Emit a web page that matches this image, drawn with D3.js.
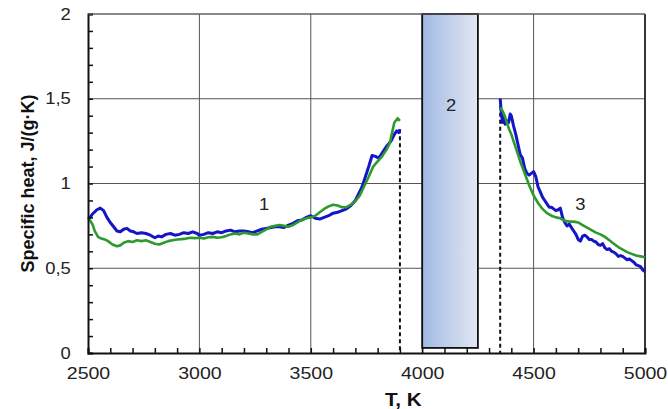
<!DOCTYPE html>
<html>
<head>
<meta charset="utf-8">
<script src="https://cdn.jsdelivr.net/npm/d3@7"></script>
<style>
  body { margin: 0; background: #fff; }
  svg { display: block; font-family: "Liberation Sans", Arial, sans-serif; }
</style>
</head>
<body>
<div id="chart"></div>
<script>
// Specific heat vs temperature, two measurement series (blue, green), split
// around the melting region (shaded bar "2").
const xTicks = [2500, 3000, 3500, 4000, 4500, 5000];
const yTicks = [0, 0.5, 1, 1.5, 2];

const blueSolid = [
  [2500, 0.80], [2510, 0.80], [2520, 0.82], [2540, 0.845], [2555, 0.855], [2570, 0.84],
  [2585, 0.80], [2600, 0.77], [2615, 0.745], [2630, 0.72], [2645, 0.715], [2660, 0.73],
  [2675, 0.735], [2690, 0.72], [2705, 0.715], [2720, 0.705], [2740, 0.71], [2760, 0.705],
  [2780, 0.695], [2800, 0.68], [2815, 0.69], [2830, 0.685], [2850, 0.70], [2870, 0.705],
  [2890, 0.695], [2910, 0.70], [2930, 0.71], [2950, 0.705], [2970, 0.715], [2990, 0.705],
  [3000, 0.695], [3020, 0.70], [3040, 0.71], [3060, 0.705], [3080, 0.715], [3100, 0.71],
  [3120, 0.72], [3140, 0.725], [3160, 0.715], [3180, 0.72], [3200, 0.72], [3220, 0.715],
  [3240, 0.71], [3260, 0.72], [3280, 0.73], [3300, 0.735], [3320, 0.74], [3340, 0.745],
  [3360, 0.745], [3380, 0.74], [3400, 0.755], [3420, 0.765], [3440, 0.78], [3460, 0.785],
  [3480, 0.80], [3500, 0.81], [3520, 0.795], [3540, 0.79], [3560, 0.80], [3580, 0.81],
  [3600, 0.825], [3620, 0.83], [3640, 0.84], [3660, 0.85], [3680, 0.87], [3700, 0.90],
  [3715, 0.94], [3730, 0.98], [3745, 1.04], [3760, 1.10], [3775, 1.165], [3790, 1.16],
  [3805, 1.15], [3820, 1.18], [3840, 1.22], [3860, 1.25], [3875, 1.29], [3885, 1.31],
  [3895, 1.30], [3900, 1.32]
];

const greenSolid = [
  [2500, 0.80], [2510, 0.78], [2520, 0.76], [2530, 0.72], [2545, 0.685], [2560, 0.675],
  [2575, 0.67], [2590, 0.66], [2610, 0.64], [2630, 0.63], [2645, 0.635], [2660, 0.65],
  [2680, 0.66], [2700, 0.655], [2720, 0.665], [2740, 0.66], [2760, 0.665], [2780, 0.655],
  [2800, 0.645], [2820, 0.64], [2840, 0.65], [2860, 0.66], [2880, 0.665], [2900, 0.67],
  [2920, 0.672], [2940, 0.675], [2960, 0.68], [2980, 0.678], [3000, 0.68], [3020, 0.675],
  [3040, 0.683], [3060, 0.685], [3080, 0.68], [3100, 0.683], [3120, 0.69], [3140, 0.70],
  [3160, 0.705], [3180, 0.70], [3200, 0.71], [3220, 0.705], [3240, 0.70], [3260, 0.70],
  [3280, 0.715], [3300, 0.73], [3320, 0.745], [3340, 0.75], [3360, 0.755], [3380, 0.75],
  [3400, 0.745], [3420, 0.755], [3440, 0.77], [3460, 0.785], [3480, 0.795], [3500, 0.80],
  [3520, 0.81], [3540, 0.83], [3560, 0.85], [3580, 0.865], [3600, 0.875], [3620, 0.87],
  [3640, 0.86], [3660, 0.86], [3680, 0.875], [3700, 0.895], [3720, 0.93], [3740, 0.985],
  [3760, 1.04], [3780, 1.10], [3800, 1.13], [3820, 1.16], [3840, 1.20], [3855, 1.24],
  [3865, 1.30], [3875, 1.36], [3890, 1.385], [3900, 1.37]
];

const blueLiquid = [
  [4350, 1.50], [4355, 1.42], [4360, 1.36], [4365, 1.39], [4372, 1.35], [4380, 1.37],
  [4388, 1.36], [4395, 1.41], [4400, 1.40], [4410, 1.34], [4420, 1.29], [4430, 1.23],
  [4440, 1.17], [4450, 1.15], [4460, 1.09], [4470, 1.06], [4480, 1.05], [4490, 1.06],
  [4500, 1.07], [4510, 1.04], [4520, 0.98], [4530, 0.95], [4540, 0.92], [4550, 0.90],
  [4560, 0.88], [4570, 0.86], [4580, 0.86], [4590, 0.85], [4600, 0.84], [4610, 0.845],
  [4620, 0.855], [4630, 0.80], [4640, 0.77], [4650, 0.75], [4660, 0.76], [4670, 0.74],
  [4680, 0.72], [4690, 0.70], [4700, 0.67], [4710, 0.66], [4720, 0.69], [4730, 0.695],
  [4740, 0.685], [4750, 0.67], [4760, 0.67], [4770, 0.66], [4780, 0.655], [4790, 0.64],
  [4800, 0.635], [4810, 0.645], [4820, 0.62], [4830, 0.61], [4840, 0.615], [4850, 0.60],
  [4860, 0.595], [4870, 0.585], [4880, 0.57], [4890, 0.575], [4900, 0.57], [4910, 0.56],
  [4920, 0.55], [4930, 0.555], [4940, 0.545], [4950, 0.535], [4960, 0.52], [4970, 0.515],
  [4980, 0.51], [4990, 0.49], [5000, 0.48]
];

const greenLiquid = [
  [4350, 1.45], [4360, 1.43], [4370, 1.40], [4380, 1.36], [4390, 1.32], [4400, 1.29],
  [4420, 1.21], [4440, 1.13], [4460, 1.06], [4480, 0.99], [4500, 0.93], [4520, 0.885],
  [4540, 0.85], [4560, 0.825], [4580, 0.81], [4600, 0.80], [4620, 0.795], [4640, 0.78],
  [4660, 0.775], [4680, 0.775], [4700, 0.77], [4720, 0.755], [4740, 0.74], [4760, 0.725],
  [4780, 0.71], [4800, 0.70], [4820, 0.685], [4840, 0.665], [4860, 0.645], [4880, 0.625],
  [4900, 0.61], [4920, 0.595], [4940, 0.585], [4960, 0.575], [4980, 0.57], [5000, 0.565]
];

// melting region and the two ends of the measured curves
const meltBand = { from: 4000, to: 4250, top: 2, bottom: 0.03 };
const dashedMarks = [[3900, 1.32], [4350, 1.50]];
const curveLabels = [
  { text: '1', t: 3290, v: 0.845 },
  { text: '2', t: 4130, v: 1.43 },
  { text: '3', t: 4710, v: 0.845 }
];

const width = 668, height = 409;
const margin = { top: 14, right: 23, bottom: 56, left: 88 };
const stretch = 'scale(1.15,1)';  // the source picture is slightly widened

const svg = d3.select('#chart').append('svg')
    .attr('width', width)
    .attr('height', height);

const x = d3.scaleLinear().domain([2500, 5000]).range([margin.left, width - margin.right]);
const y = d3.scaleLinear().domain([0, 2]).range([height - margin.bottom, margin.top]);

const fmt = d3.formatLocale({ decimal: ',', thousands: ' ', grouping: [3], currency: ['', ''] }).format('~g');

// grid
const grid = svg.append('g').attr('stroke', '#555').attr('stroke-width', 1);
grid.selectAll('line.vx')
  .data(xTicks.slice(1))
  .join('line')
    .attr('x1', d => x(d)).attr('x2', d => x(d))
    .attr('y1', y(0)).attr('y2', y(2));
grid.selectAll('line.hy')
  .data(yTicks.slice(1))
  .join('line')
    .attr('x1', x(2500)).attr('x2', x(5000))
    .attr('y1', d => y(d)).attr('y2', d => y(d));
svg.append('line')
    .attr('x1', x(5000)).attr('x2', x(5000))
    .attr('y1', y(0)).attr('y2', y(2))
    .attr('stroke', '#111').attr('stroke-width', 1.5);

// melting band
const grad = svg.append('defs').append('linearGradient')
    .attr('id', 'band').attr('x1', '0%').attr('x2', '100%');
grad.append('stop').attr('offset', '0%').attr('stop-color', '#a2b9e4');
grad.append('stop').attr('offset', '100%').attr('stop-color', '#e2e7f3');

svg.append('rect')
    .attr('x', x(meltBand.from))
    .attr('y', y(meltBand.top))
    .attr('width', x(meltBand.to) - x(meltBand.from))
    .attr('height', y(meltBand.bottom) - y(meltBand.top))
    .attr('fill', 'url(#band)')
    .attr('stroke', '#111')
    .attr('stroke-width', 1.8);

// dashed drops to the axis
svg.append('g').selectAll('line')
  .data(dashedMarks)
  .join('line')
    .attr('x1', d => x(d[0])).attr('x2', d => x(d[0]))
    .attr('y1', d => y(d[1])).attr('y2', y(0))
    .attr('stroke', '#111')
    .attr('stroke-width', 2)
    .attr('stroke-dasharray', '4,3');

// curves
const line = d3.line().x(d => x(d[0])).y(d => y(d[1]));
const series = [
  { data: blueSolid, color: '#1414c8', w: 3 },
  { data: blueLiquid, color: '#1414c8', w: 3 },
  { data: greenSolid, color: '#2e9a2e', w: 2.6 },
  { data: greenLiquid, color: '#2e9a2e', w: 2.6 }
];
svg.append('g').selectAll('path')
  .data(series)
  .join('path')
    .attr('d', d => line(d.data))
    .attr('fill', 'none')
    .attr('stroke', d => d.color)
    .attr('stroke-width', d => d.w)
    .attr('stroke-linejoin', 'round');

// axes with inward minor ticks every 100 K / 0.1
const xAxis = d3.axisBottom(x)
    .tickValues(d3.range(2500, 5001, 100))
    .tickSize(-5)
    .tickPadding(14)
    .tickFormat(d => d % 500 === 0 ? d : '');
const gx = svg.append('g')
    .attr('transform', `translate(0,${y(0)})`)
    .call(xAxis);
gx.select('.domain').attr('stroke', '#111').attr('stroke-width', 2);
gx.selectAll('.tick line').attr('stroke', '#111').attr('stroke-width', 1.5);
gx.selectAll('.tick text')
    .attr('font-size', 17)
    .attr('font-family', '"Liberation Sans", Arial, sans-serif')
    .attr('fill', '#222')
    .attr('transform', stretch);

const yAxis = d3.axisLeft(y)
    .tickValues(d3.range(0, 21).map(i => i / 10))
    .tickSize(-5)
    .tickPadding(15)
    .tickFormat(d => yTicks.includes(d) ? fmt(d) : '');
const gy = svg.append('g')
    .attr('transform', `translate(${x(2500)},0)`)
    .call(yAxis);
gy.select('.domain').attr('stroke', '#111').attr('stroke-width', 2);
gy.selectAll('.tick line').attr('stroke', '#111').attr('stroke-width', 1.5);
gy.selectAll('.tick text')
    .attr('font-size', 16)
    .attr('font-family', '"Liberation Sans", Arial, sans-serif')
    .attr('fill', '#222')
    .attr('transform', stretch);

// top border
svg.append('line')
    .attr('x1', x(2500)).attr('x2', x(5000))
    .attr('y1', y(2)).attr('y2', y(2))
    .attr('stroke', '#666').attr('stroke-width', 1.2);

// curve numbers
svg.append('g').selectAll('text')
  .data(curveLabels)
  .join('text')
    .attr('transform', d => `translate(${x(d.t)},${y(d.v)}) ${stretch}`)
    .attr('text-anchor', 'middle')
    .attr('font-size', 16)
    .attr('fill', '#222')
    .text(d => d.text);

// axis titles
svg.append('text')
    .attr('transform', `translate(${x(3915)},406) ${stretch}`)
    .attr('text-anchor', 'middle')
    .attr('font-size', 18)
    .attr('font-weight', 'bold')
    .attr('fill', '#111')
    .text('T, K');

svg.append('text')
    .attr('transform', `translate(34,${y(1.0)}) rotate(-90)`)
    .attr('text-anchor', 'middle')
    .attr('font-size', 18)
    .attr('font-weight', 'bold')
    .attr('fill', '#111')
    .text('Specific heat, J/(g·K)');
</script>
</body>
</html>
